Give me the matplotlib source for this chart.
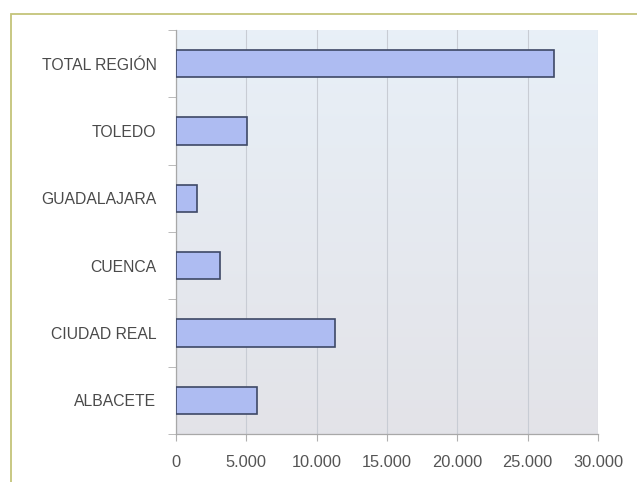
import numpy as np
import matplotlib as mpl
import matplotlib.pyplot as plt
from matplotlib.patches import Rectangle
from matplotlib.ticker import FuncFormatter

mpl.use('Agg')
plt.rcParams['font.family'] = ['Liberation Sans', 'DejaVu Sans']

provincias = ['ALBACETE', 'CIUDAD REAL', 'CUENCA', 'GUADALAJARA', 'TOLEDO', 'TOTAL REGIÓN']
valores = [5750, 11300, 3130, 1520, 5030, 26850]
x_ticks = [0, 5000, 10000, 15000, 20000, 25000, 30000]

fig = plt.figure(figsize=(6.37, 4.82), dpi=100)
fig.patch.set_facecolor('white')

# marco exterior del gráfico
fig.add_artist(Rectangle((11 / 637, -0.1), 1.2, 1 - 14 / 482 + 0.1, transform=fig.transFigure,
                         fill=False, edgecolor='#c4c47a', linewidth=1.3))

ax = fig.add_axes([176 / 637, 1 - 434 / 482, (598 - 176) / 637, (434 - 30) / 482])
ax.set_xlim(0, 30000)
ax.set_ylim(-0.5, len(provincias) - 0.5)

# fondo degradado del área de trazado
grad = np.linspace(0, 1, 256).reshape(-1, 1)
top = np.array([0.91, 0.94, 0.97])
bottom = np.array([0.89, 0.89, 0.91])
img = top * (1 - grad[..., None]) + bottom * grad[..., None]
img = img.reshape(256, 1, 3)
ax.imshow(img, extent=[0, 30000, -0.5, len(provincias) - 0.5], aspect='auto',
          origin='upper', zorder=0)

ax.set_xticks(x_ticks)
ax.grid(axis='x', color='#c8ccd4', linewidth=0.8, zorder=1)

ax.barh(range(len(provincias)), valores, height=0.41, color='#aebcf2',
        edgecolor='#3e4866', linewidth=1.2, zorder=3)

ax.set_yticks(range(len(provincias)))
ax.set_yticklabels(provincias)
ax.set_yticks(np.arange(-0.5, len(provincias), 1), minor=True)
ax.tick_params(axis='y', which='major', length=0, pad=14, labelsize=11.3, labelcolor='#4a4a4a')
ax.tick_params(axis='y', which='minor', length=6, color='#b0b0b0')
ax.xaxis.set_major_formatter(FuncFormatter(lambda v, p: f'{int(v):,}'.replace(',', '.')))
ax.tick_params(axis='x', length=5, color='#b0b0b0', pad=10, labelsize=11.8, labelcolor='#555555')

for side in ['top', 'right']:
    ax.spines[side].set_visible(False)
for side in ['left', 'bottom']:
    ax.spines[side].set_color('#a8a8a8')
    ax.spines[side].set_linewidth(0.9)

fig.savefig('out.png', dpi=100)
